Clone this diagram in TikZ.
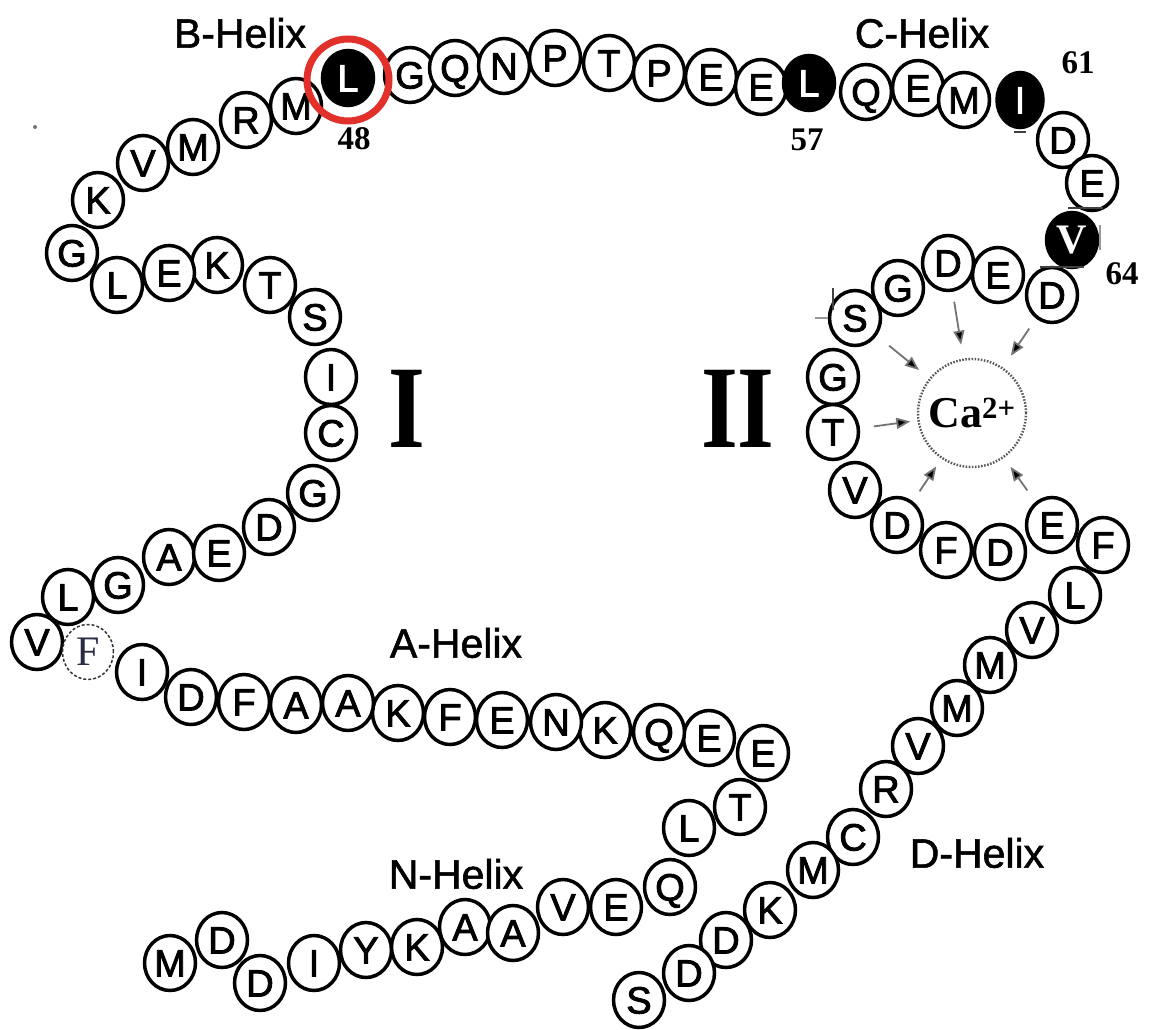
\documentclass[tikz,border=0pt]{standalone}
\usepackage{fontspec}
\usepackage{graphicx}
\setmainfont{Liberation Sans}
\newfontfamily\resfont[FakeBold=2.2]{Liberation Sans}
\newfontfamily\lblfont[FakeBold=1.4]{Liberation Sans}
\newfontfamily\serifbf[BoldFont={Liberation Serif Bold}]{Liberation Serif}
\usetikzlibrary{shapes.geometric,arrows.meta,calc}
\definecolor{ringred}{HTML}{E2302A}
\definecolor{ftint}{HTML}{2A2A45}
\begin{document}
\begin{tikzpicture}[x=1pt,y=-1pt,
  res/.style={ellipse, draw=black, line width=3.5pt, fill=white,
    minimum width=51pt, minimum height=55pt, inner sep=0pt,
    font=\resfont\fontsize{38}{38}\selectfont, text height=27pt, text depth=0pt},
  blk/.style={res, fill=black, text=white},
  dashres/.style={res, draw=black!80, line width=1.5pt, densely dashed,
    font=\serifbf\fontsize{42}{42}\selectfont, text=ftint},
  lbl/.style={inner sep=0pt, font=\lblfont\fontsize{41}{41}\selectfont},
  num/.style={inner sep=0pt, font=\serifbf\bfseries\fontsize{33}{33}\selectfont},
  roman/.style={inner sep=0pt, font=\serifbf\bfseries\fontsize{118}{118}\selectfont},
  ion/.style={circle, draw=black!65, line width=2.4pt, dash pattern=on 1.6pt off 1.5pt,
    minimum size=108pt, inner sep=0pt, font=\serifbf\bfseries\fontsize{44}{44}\selectfont},
  carrow/.style={draw=black!55, line width=1.8pt, -{Triangle[length=14pt,width=11pt,fill=black]}},
  tick/.style={draw=black!75, line width=1.2pt},
  ringstyle/.style={circle, draw=ringred, line width=7pt, minimum size=82pt, inner sep=0pt}
]
\useasboundingbox (0,0) rectangle (1151,1030);
% N-helix
\node[res] (r1) at (170,963) {M};
\node[res] (r2) at (222,940) {D};
\node[res] (r3) at (260,983) {D};
\node[res] (r4) at (314,963) {I};
\node[res] (r5) at (366,950) {Y};
\node[res] (r6) at (417,947) {K};
\node[res] (r7) at (465,927) {A};
\node[res] (r8) at (513,933) {A};
\node[res] (r9) at (563,907) {V};
\node[res] (r10) at (616,907) {E};
\node[res] (r11) at (670,887) {Q};
\node[res] (r12) at (689,828) {L};
\node[res] (r13) at (740,807) {T};
\node[res] (r14) at (763,753) {E};
% A-helix
\node[res] (r15) at (709,738) {E};
\node[res] (r16) at (659,732) {Q};
\node[res] (r17) at (605,730) {K};
\node[res] (r18) at (556,722) {N};
\node[res] (r19) at (502,720) {E};
\node[res] (r20) at (450,717) {F};
\node[res] (r21) at (398,713) {K};
\node[res] (r22) at (348,703) {A};
\node[res] (r23) at (296,705) {A};
\node[res] (r24) at (244,702) {F};
\node[res] (r25) at (191,697) {D};
\node[res] (r26) at (142,672) {I};
\node[res] (r28) at (37,642) {V};
\node[dashres] (r27) at (88,652) {F};
% loop I
\node[res] (r29) at (68,597) {L};
\node[res] (r30) at (118,585) {G};
\node[res] (r31) at (169,557) {A};
\node[res] (r32) at (219,553) {E};
\node[res] (r33) at (269,527) {D};
\node[res] (r34) at (313,493) {G};
\node[res] (r35) at (331,433) {C};
\node[res] (r36) at (331,377) {I};
\node[res] (r37) at (315,317) {S};
\node[res] (r38) at (270,285) {T};
\node[res] (r39) at (217,265) {K};
\node[res] (r40) at (169,273) {E};
\node[res] (r41) at (117,285) {L};
\node[res] (r42) at (72,253) {G};
% B-helix
\node[res] (r43) at (98,200) {K};
\node[res] (r44) at (143,163) {V};
\node[res] (r45) at (193,147) {M};
\node[res] (r46) at (246,120) {R};
\node[res] (r47) at (296,106) {M};
\node[blk] (r48) at (348,78) {L};
\node[res] (r49) at (410,75) {G};
\node[res] (r50) at (455,68) {Q};
\node[res] (r51) at (504,66) {N};
\node[res] (r52) at (555,58) {P};
\node[res] (r53) at (609,63) {T};
\node[res] (r54) at (659,73) {P};
\node[res] (r55) at (711,77) {E};
\node[res] (r56) at (761,87) {E};
\node[blk] (r57) at (809,83) {L};
% C-helix
\node[res] (r58) at (866,92) {Q};
\node[res] (r59) at (918,88) {E};
\node[res] (r60) at (964,100) {M};
\node[blk, minimum width=46pt] (r61) at (1020,100) {I};
\node[res] (r62) at (1063,140) {D};
\node[res] (r63) at (1092,183) {E};
\node[blk, font=\serifbf\bfseries\fontsize{42}{42}\selectfont] (r64) at (1072,240) {V};
% loop II
\node[res] (r65) at (1052,295) {D};
\node[res] (r66) at (998,275) {E};
\node[res] (r67) at (948,263) {D};
\node[res] (r68) at (898,288) {G};
\node[res] (r69) at (855,318) {S};
\node[res] (r70) at (833,377) {G};
\node[res] (r71) at (833,432) {T};
\node[res] (r72) at (855,490) {V};
\node[res] (r73) at (897,525) {D};
\node[res] (r74) at (946,550) {F};
\node[res] (r75) at (1000,552) {D};
\node[res] (r76) at (1052,525) {E};
\node[res] (r77) at (1103,545) {F};
% D-helix
\node[res] (r78) at (1075,595) {L};
\node[res] (r79) at (1032,630) {V};
\node[res] (r80) at (990,665) {M};
\node[res] (r81) at (957,708) {M};
\node[res] (r82) at (918,746) {V};
\node[res] (r83) at (886,789) {R};
\node[res] (r84) at (853,837) {C};
\node[res] (r85) at (813,870) {M};
\node[res] (r86) at (770,910) {K};
\node[res] (r87) at (726,940) {D};
\node[res] (r88) at (689,973) {D};
\node[res] (r89) at (639,1000) {S};
% highlight ring
\node[ringstyle] (ring48) at (348,80) {};
% calcium
\node[ion] (ca) at (972,413) {Ca\textsuperscript{2+}};
\draw[carrow, shorten <=10pt, shorten >=14pt] (r67) -- (ca);
\draw[carrow, shorten <=12pt, shorten >=14pt] (r65) -- (ca);
\draw[carrow, shorten <=16pt, shorten >=13pt] (r69) -- (ca);
\draw[carrow, shorten <=14pt, shorten >=7pt] (r71) -- (ca);
\draw[carrow, shorten <=12pt, shorten >=9pt] (r73) -- (ca);
\draw[carrow, shorten <=14pt, shorten >=11pt] (r76) -- (ca);
% labels
\node[lbl] (bh) at (240,33) {B-Helix};
\node[lbl] (chx) at (922,33) {C-Helix};
\node[lbl] (ah) at (456,643) {A-Helix};
\node[lbl] (nh) at (456,874) {N-Helix};
\node[lbl] (dh) at (977,853) {D-Helix};
\node[num] (n48) at (354,139) {48};
\node[num] (n57) at (807,140) {57};
\node[num] (n61) at (1078,63) {61};
\node[num] (n64) at (1122,274) {64};
\node[roman] (rI) at (407,409) {\scalebox{0.8}[1]{I}};
\node[roman] (rII) at (738,409) {\scalebox{0.8}[1]{II}};
% small ticks
\coordinate (ta1) at (1014,132); \coordinate (ta2) at (1026,132);
\coordinate (tb1) at (1068,208); \coordinate (tb2) at (1103,208);
\coordinate (tc1) at (1040,267); \coordinate (tc2) at (1084,267);
\coordinate (td1) at (1100,225); \coordinate (td2) at (1100,250);
\coordinate (te1) at (833,288); \coordinate (te2) at (833,310);
\coordinate (tf1) at (815,318); \coordinate (tf2) at (828,318);
\draw[tick] (ta1) -- (ta2);
\draw[tick] (tb1) -- (tb2);
\draw[tick] (tc1) -- (tc2);
\draw[tick, draw=black!40] (td1) -- (td2);
\draw[tick] (te1) -- (te2);
\draw[tick, draw=black!40] (tf1) -- (tf2);
\fill[black!55] (35,127) circle (2pt);
\end{tikzpicture}
\end{document}
